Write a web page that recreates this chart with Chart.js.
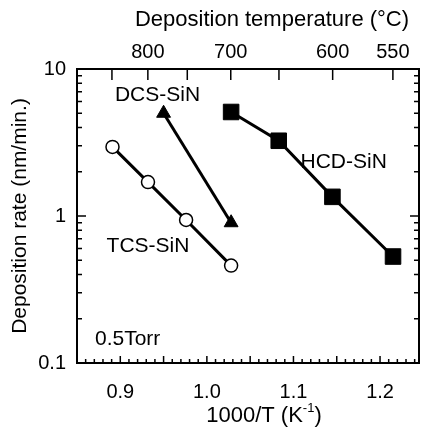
<!DOCTYPE html>
<html>
<head>
<meta charset="utf-8">
<script src="https://cdn.jsdelivr.net/npm/chart.js@4.4.0/dist/chart.umd.min.js"></script>
<style>
  html, body { margin: 0; padding: 0; background: #fff; }
  canvas { display: block; }
</style>
</head>
<body>
<canvas id="myChart" width="431" height="440"></canvas>
<script>
// values (x = 1000/T in K^-1, rate in nm/min.)
const tcsX = [0.891, 0.932, 0.976, 1.028];
const tcsRate = [2.95, 1.70, 0.94, 0.46];
const dcsX = [0.950, 1.028];
const dcsRate = [5.0, 0.90];
const hcdX = [1.028, 1.083, 1.145, 1.215];
const hcdRate = [5.1, 3.25, 1.35, 0.53];

const bottomTicks = [0.9, 1.0, 1.1, 1.2];
const rateTicks = [0.1, 1, 10];
const tempTicks = [850, 800, 750, 700, 650, 600, 550];
const tempLabels = [800, 700, 600, 550];

const notes = [
  { text: "DCS-SiN", x: 0.943, y: 6.65 },
  { text: "HCD-SiN", x: 1.158, y: 2.33 },
  { text: "TCS-SiN", x: 0.932, y: 0.62 },
  { text: "0.5Torr", x: 0.9085, y: 0.146 }
];

const FONT = '"Liberation Sans", Arial, Helvetica, sans-serif';
const invT = t => 1000 / (t + 273.15);
const pts = (xs, ys) => xs.map((x, i) => ({ x: x, y: ys[i] }));

// frame with inward ticks, annotations, top/bottom titles
const frameTicks = {
  id: 'frameTicks',
  afterDraw(chart) {
    const ctx = chart.ctx, a = chart.chartArea;
    const xs = chart.scales.x, xt = chart.scales.xTop, ys = chart.scales.y;
    ctx.save();
    ctx.strokeStyle = '#000';
    ctx.lineWidth = 1.5;
    ctx.beginPath();
    for (let i = 85; i <= 124; i++) {
      const px = xs.getPixelForValue(i / 100);
      const len = i % 5 == 0 ? 7 : 4;
      ctx.moveTo(px, a.bottom); ctx.lineTo(px, a.bottom - len);
    }
    tempTicks.forEach(t => {
      const px = xt.getPixelForValue(invT(t));
      ctx.moveTo(px, a.top); ctx.lineTo(px, a.top + 11);
    });
    [0.1, 1].forEach(d => {
      for (let k = 1; k <= 9; k++) {
        const py = ys.getPixelForValue(k * d);
        const len = k == 1 ? 9 : 5;
        ctx.moveTo(a.left, py); ctx.lineTo(a.left + len, py);
        ctx.moveTo(a.right, py); ctx.lineTo(a.right - len, py);
      }
    });
    ctx.stroke();
    ctx.lineWidth = 2;
    ctx.strokeRect(a.left, a.top, a.right - a.left, a.bottom - a.top);

    ctx.fillStyle = '#000';
    ctx.textAlign = 'center';
    ctx.textBaseline = 'middle';
    ctx.font = '21px ' + FONT;
    notes.forEach(n => {
      ctx.fillText(n.text, xs.getPixelForValue(n.x), ys.getPixelForValue(n.y));
    });

    ctx.font = '22px ' + FONT;
    ctx.fillText('Deposition temperature (\u00B0C)', 272, 20);

    // bottom title with superscript
    const main = '1000/T (K', sup = '-1', end = ')';
    ctx.font = '22px ' + FONT;
    const w1 = ctx.measureText(main).width, w3 = ctx.measureText(end).width;
    ctx.font = '13px ' + FONT;
    const w2 = ctx.measureText(sup).width;
    let x0 = 264 - (w1 + w2 + w3) / 2;
    ctx.textAlign = 'left';
    ctx.font = '22px ' + FONT;
    ctx.fillText(main, x0, 416);
    ctx.font = '13px ' + FONT;
    ctx.fillText(sup, x0 + w1, 408);
    ctx.font = '22px ' + FONT;
    ctx.fillText(end, x0 + w1 + w2, 416);
    ctx.restore();
  }
};

const ctx = document.getElementById('myChart').getContext('2d');
const myChart = new Chart(ctx, {
  type: 'line',
  data: {
    datasets: [
      { label: 'TCS-SiN', data: pts(tcsX, tcsRate), borderColor: '#000', borderWidth: 3,
        pointStyle: 'circle', pointRadius: 6.5, pointBackgroundColor: '#fff',
        pointBorderColor: '#000', pointBorderWidth: 1.5 },
      { label: 'DCS-SiN', data: pts(dcsX, dcsRate), borderColor: '#000', borderWidth: 3,
        pointStyle: 'triangle', pointRadius: 8, pointBackgroundColor: '#000',
        pointBorderColor: '#000', pointBorderWidth: 1 },
      { label: 'HCD-SiN', data: pts(hcdX, hcdRate), borderColor: '#000', borderWidth: 3,
        pointStyle: 'rect', pointRadius: 11, pointBackgroundColor: '#000',
        pointBorderColor: '#000', pointBorderWidth: 1 }
    ]
  },
  options: {
    responsive: false,
    animation: false,
    layout: { padding: { right: 3 } },
    plugins: { legend: { display: false }, tooltip: { enabled: false } },
    scales: {
      x: {
        type: 'linear', position: 'bottom', min: 0.85, max: 1.245,
        grid: { display: false, drawTicks: false }, border: { display: false },
        afterBuildTicks: s => { s.ticks = bottomTicks.map(v => ({ value: v })); },
        afterFit: s => { s.height = 77; },
        ticks: { color: '#000', font: { family: FONT, size: 20 }, padding: 17,
          maxRotation: 0, autoSkip: false, callback: v => v.toFixed(1) }
      },
      xTop: {
        type: 'linear', position: 'top', min: 0.85, max: 1.245,
        grid: { display: false, drawTicks: false }, border: { display: false },
        afterBuildTicks: s => { s.ticks = tempTicks.map(t => ({ value: invT(t) })); },
        afterFit: s => { s.height = 69; },
        ticks: { color: '#000', font: { family: FONT, size: 20 }, padding: 5,
          maxRotation: 0, autoSkip: false,
          callback: v => {
            const t = Math.round(1000 / v - 273.15);
            return tempLabels.includes(t) ? String(t) : '';
          } }
      },
      y: {
        type: 'logarithmic', position: 'left', min: 0.1, max: 10,
        grid: { display: false, drawTicks: false }, border: { display: false },
        afterBuildTicks: s => { s.ticks = rateTicks.map(v => ({ value: v })); },
        afterFit: s => { s.width = 77; },
        ticks: { color: '#000', font: { family: FONT, size: 20 }, padding: 11,
          autoSkip: false, callback: v => String(v) },
        title: { display: true, text: 'Deposition rate (nm/min.)', color: '#000',
          font: { family: FONT, size: 21 }, padding: { top: 8, bottom: 0 } }
      }
    }
  },
  plugins: [frameTicks]
});
</script>
</body>
</html>
